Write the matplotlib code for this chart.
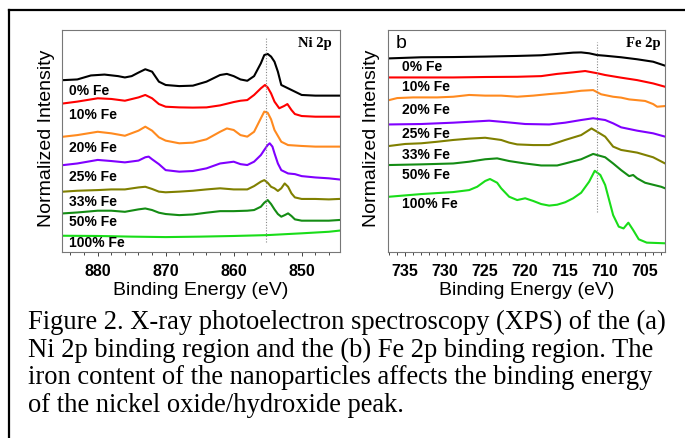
import matplotlib
matplotlib.use("Agg")
import matplotlib.pyplot as plt
from matplotlib.lines import Line2D
from matplotlib.ticker import MultipleLocator

SAMPLES = ["0% Fe", "10% Fe", "20% Fe", "25% Fe", "33% Fe", "50% Fe", "100% Fe"]
COLORS = ["#000000", "#ff0000", "#ff8a1f", "#8000ff", "#808000", "#148c14", "#19dd19"]

# ---- Ni 2p (panel a), stacked normalized intensity ----
NI_E = {
    "0% Fe": [885, 883, 881, 879, 877, 876, 875, 874, 873, 872, 871, 870, 868, 866, 864, 862,
              861, 860, 859, 858, 857, 856, 855.5, 855, 854.5, 854, 853.5, 853, 852, 851, 850,
              848, 846, 844.5],
    "10% Fe": [885, 883, 880, 878, 876, 874, 873, 872, 871, 870, 868, 866, 864, 862, 860, 859,
               858, 857, 856, 855.4, 855, 854.5, 854, 853.3, 852.6, 852.1, 851.5, 851, 850,
               848, 846, 844.5],
    "20% Fe": [885, 883, 880, 878, 876, 874, 873, 872, 871, 870, 868, 866, 864, 862, 861, 860,
               859, 858, 857, 856, 855.5, 855, 854.5, 854, 853, 852, 850, 848, 846, 844.5],
    "25% Fe": [885, 883, 880, 878, 876, 874, 873, 872.5, 872, 871, 870, 868, 866, 864, 862,
               860, 859, 858, 857, 856, 855.5, 855, 854.7, 854.3, 854, 853.5, 853, 852, 851,
               850, 848, 846, 844.5],
    "33% Fe": [885, 883, 880, 878, 876, 874, 873, 872, 871, 870, 868, 866, 864, 862, 860, 858,
               857, 856, 855.5, 855, 854.5, 854, 853.5, 853, 852.5, 852, 851.5, 851, 850, 848,
               846, 844.5],
    "50% Fe": [885, 883, 880, 878, 876, 874, 873, 872, 871, 870, 868, 866, 864, 862, 860, 858,
               857, 856, 855.5, 855, 854.5, 854, 853.5, 853, 852.5, 852, 851.5, 851, 850, 848,
               846, 844.5],
    "100% Fe": [885, 880, 875, 870, 865, 860, 855, 850, 846, 844.5],
}
NI_I = {
    "0% Fe": [7.74, 7.77, 7.95, 7.99, 7.92, 7.86, 7.92, 8.08, 8.23, 8.12, 7.67, 7.52, 7.47,
              7.49, 7.67, 7.97, 8.02, 7.92, 7.77, 7.71, 7.92, 8.50, 8.87, 8.92, 8.80, 8.57,
              8.12, 7.52, 7.37, 7.22, 7.07, 7.04, 7.04, 7.04],
    "10% Fe": [6.69, 6.77, 6.92, 6.89, 6.81, 6.96, 7.07, 6.92, 6.66, 6.54, 6.51, 6.50, 6.51,
               6.60, 6.75, 6.81, 6.84, 7.07, 7.37, 7.52, 7.41, 7.14, 6.77, 6.47, 6.57, 6.66,
               6.39, 6.21, 6.12, 6.09, 6.09, 6.09],
    "20% Fe": [5.19, 5.26, 5.41, 5.34, 5.23, 5.46, 5.64, 5.46, 5.16, 5.01, 4.89, 4.92, 5.07,
               5.41, 5.56, 5.49, 5.26, 5.19, 5.41, 6.02, 6.32, 6.27, 5.97, 5.49, 4.96, 4.81,
               4.77, 4.74, 4.74, 4.74],
    "25% Fe": [3.91, 3.98, 4.14, 4.09, 4.03, 4.11, 4.26, 4.29, 4.17, 3.95, 3.68, 3.61, 3.64,
               3.76, 3.98, 4.06, 3.95, 3.91, 4.06, 4.36, 4.59, 4.81, 4.89, 4.74, 4.44, 3.98,
               3.68, 3.53, 3.50, 3.41, 3.35, 3.31, 3.26],
    "33% Fe": [2.71, 2.75, 2.78, 2.81, 2.81, 2.90, 2.93, 2.83, 2.71, 2.68, 2.71, 2.75, 2.81,
               2.86, 2.81, 2.81, 2.96, 3.16, 3.23, 3.11, 2.93, 2.86, 2.74, 2.86, 3.08, 2.93,
               2.63, 2.45, 2.38, 2.38, 2.36, 2.38],
    "50% Fe": [1.73, 1.77, 1.85, 1.85, 1.80, 1.91, 1.95, 1.88, 1.76, 1.70, 1.65, 1.68, 1.76,
               1.83, 1.83, 1.85, 1.88, 2.03, 2.21, 2.33, 2.15, 1.91, 1.70, 1.58, 1.65, 1.73,
               1.61, 1.46, 1.40, 1.40, 1.40, 1.43],
    "100% Fe": [0.72, 0.71, 0.68, 0.66, 0.68, 0.71, 0.75, 0.83, 0.90, 0.95],
}

# ---- Fe 2p (panel b) ----
FE_E = {
    "0% Fe": [737, 733, 729, 725, 721, 718, 716, 714, 713, 712, 711, 710, 708, 706, 704, 702.5],
    "10% Fe": [737, 733, 729, 725, 721, 718, 716, 714, 712.5, 711, 710, 708, 706, 704, 702.5],
    "20% Fe": [737, 736, 734, 731, 729, 727, 725, 723, 721, 719, 717, 715, 713, 711.5, 710.5,
               709, 708, 707, 705, 704, 703.5, 702.5],
    "25% Fe": [737, 733, 729, 726, 724.5, 722, 720, 717, 715, 713, 711.5, 710, 709, 708, 706,
               704, 702.5],
    "33% Fe": [737, 735, 733, 731, 729, 727, 725, 723, 722, 721, 719, 717, 716, 715, 713, 711.7,
               711, 710, 709, 708, 706, 704, 702.5],
    "50% Fe": [737, 733, 729, 727, 725, 723.5, 722, 720, 718, 716, 715, 713, 711.5, 710, 709,
               708, 707, 706.5, 706, 705, 703, 702.5],
    "100% Fe": [737, 733, 729, 727, 726, 725, 724.4, 723.5, 723, 722, 721, 720, 719, 718, 717,
                716, 715, 714, 713, 712, 711.3, 710.6, 710, 709.5, 709, 708.3, 707.7, 707.1,
                706.5, 705.8, 704.8, 702.5],
}
FE_I = {
    "0% Fe": [8.72, 8.77, 8.78, 8.80, 8.83, 8.86, 8.92, 8.98, 8.99, 8.95, 8.87, 8.84, 8.77,
              8.68, 8.57, 8.39],
    "10% Fe": [7.86, 7.86, 7.86, 7.88, 7.89, 7.92, 8.02, 8.09, 8.15, 8.05, 7.97, 7.85, 7.74,
               7.59, 7.44],
    "20% Fe": [6.84, 6.93, 6.96, 6.96, 6.99, 7.07, 7.04, 7.04, 6.99, 7.04, 7.11, 7.17, 7.26,
               7.29, 7.10, 6.99, 6.95, 6.87, 6.80, 6.66, 6.54, 6.57],
    "25% Fe": [5.74, 5.76, 5.82, 5.88, 5.91, 5.83, 5.76, 5.74, 5.82, 5.94, 6.02, 5.94, 5.79,
               5.61, 5.46, 5.34, 5.19],
    "33% Fe": [4.77, 4.86, 4.89, 4.96, 5.04, 5.10, 5.14, 5.04, 4.92, 4.84, 4.81, 4.81, 4.92,
               5.04, 5.26, 5.56, 5.41, 5.19, 4.74, 4.59, 4.47, 4.26, 3.98],
    "50% Fe": [3.91, 3.94, 3.98, 4.06, 4.17, 4.21, 4.09, 3.98, 3.89, 3.89, 3.98, 4.17, 4.41,
               4.26, 3.98, 3.68, 3.41, 3.46, 3.31, 3.11, 2.93, 2.86],
    "100% Fe": [2.48, 2.60, 2.69, 2.78, 2.93, 3.19, 3.28, 3.11, 2.86, 2.48, 2.33, 2.41, 2.29,
                2.15, 2.08, 2.12, 2.23, 2.41, 2.66, 3.16, 3.65, 3.46, 3.01, 2.33, 1.65, 1.13,
                1.05, 1.31, 0.98, 0.56, 0.41, 0.38],
}

NI_LABEL_Y = [7.26, 6.17, 4.66, 3.35, 2.26, 1.32, 0.38]
FE_LABEL_Y = [8.35, 7.41, 6.39, 5.31, 4.36, 3.46, 2.15]
NI_MARK = 855.3
FE_MARK = 711.0

CAPTION = [
    "Figure 2. X-ray photoelectron spectroscopy (XPS) of the (a)",
    "Ni 2p binding region and the (b) Fe 2p binding region. The",
    "iron content of the nanoparticles affects the binding energy",
    "of the nickel oxide/hydroxide peak.",
]

SANS = "Liberation Sans"
SERIF = "Liberation Serif"


def draw_panel(ax, energies, intens, label_y, label_x, mark, mark_span, xlim, major, minor):
    for name, col, ly in zip(SAMPLES, COLORS, label_y):
        ax.plot(energies[name], intens[name], color=col, lw=1.5)
        ax.text(label_x, ly, name, fontsize=10, fontweight="bold", family=SANS,
                ha="left", va="center")
    ax.plot([mark, mark], mark_span, color="#888888", lw=0.8, ls=(0, (1, 1.5)))
    ax.set_xlim(*xlim)
    ax.set_ylim(0, 10)
    ax.set_yticks([])
    ax.xaxis.set_major_locator(MultipleLocator(major))
    ax.xaxis.set_minor_locator(MultipleLocator(minor))
    ax.tick_params(axis="x", which="major", length=3, width=0.6, pad=6,
                   labelsize=11.5, colors="#222222")
    ax.tick_params(axis="x", which="minor", length=2, width=0.5)
    for lab in ax.get_xticklabels():
        lab.set_family(SANS)
        lab.set_fontweight("bold")
        lab.set_color("black")
    for sp in ax.spines.values():
        sp.set_color("#777777")
        sp.set_linewidth(0.8)
    ax.set_xlabel("Binding Energy (eV)", fontsize=14, family=SANS, labelpad=2)
    ax.set_ylabel("Normalized Intensity", fontsize=14, family=SANS)


fig = plt.figure(figsize=(6.85, 4.38), dpi=100)
ax_a = fig.add_axes([0.090, 0.4253, 0.406, 0.5062])
ax_b = fig.add_axes([0.567, 0.4253, 0.404, 0.5062])

draw_panel(ax_a, NI_E, NI_I, NI_LABEL_Y, 884.2, NI_MARK, [0.45, 9.62],
           (885.3, 844.4), 10, 2)
draw_panel(ax_b, FE_E, FE_I, FE_LABEL_Y, 735.4, FE_MARK, [1.8, 9.47],
           (737.1, 702.5), 5, 1)

ax_a.yaxis.set_label_coords(-0.025, 0.51)
ax_b.yaxis.set_label_coords(-0.032, 0.51)

ax_a.text(0.97, 0.94, "Ni 2p", transform=ax_a.transAxes, ha="right", va="center",
          fontsize=10.5, fontweight="bold", family=SERIF)
ax_b.text(0.982, 0.94, "Fe 2p", transform=ax_b.transAxes, ha="right", va="center",
          fontsize=10.5, fontweight="bold", family=SERIF)
ax_b.text(0.025, 0.94, "b", transform=ax_b.transAxes, ha="left", va="center",
          fontsize=14, family=SANS)

# outer frame of the screenshot
fig.add_artist(Line2D([8.5 / 685, 1.0], [1 - 10 / 438] * 2, color="black", lw=1.6,
                      transform=fig.transFigure))
fig.add_artist(Line2D([8.5 / 685] * 2, [1 - 10 / 438, 0.0], color="black", lw=1.6,
                      transform=fig.transFigure))

for line, base in zip(CAPTION, [329.0, 357.0, 384.5, 412.0]):
    fig.text(28 / 685, 1 - base / 438, line, family=SERIF, fontsize=19.1,
             ha="left", va="baseline")

fig.savefig("out.png", dpi=100)
